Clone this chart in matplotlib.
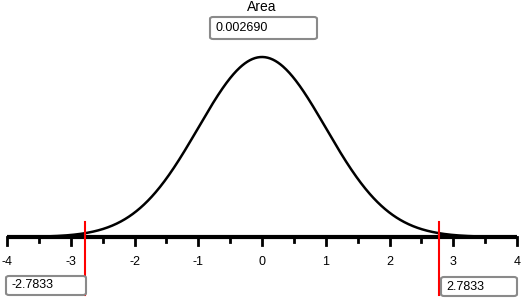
import numpy as np
import matplotlib
matplotlib.use("Agg")
import matplotlib.pyplot as plt
from matplotlib.patches import FancyBboxPatch

# data
x_ticks = [-4, -3, -2, -1, 0, 1, 2, 3, 4]
x_tick_labels = ["-4", "-3", "-2", "-1", "0", "1", "2", "3", "4"]
critical_values = [-2.7833, 2.7833]
critical_labels = ["-2.7833", "2.7833"]
area_label = "Area"
area_value = "0.002690"

plt.rcParams['font.family'] = ['Liberation Sans', 'DejaVu Sans']

W, H = 525, 300
fig = plt.figure(figsize=(W/100, H/100), dpi=100)
ax = fig.add_axes([0, 0, 1, 1])
ax.set_axis_off()

px_per_x = 510/8.0
x0_px = 262.0
px_per_y = 180/0.39894
y0_px = 237.0
ax.set_xlim(-x0_px/px_per_x, (W - x0_px)/px_per_x)
ax.set_ylim(-(H - y0_px)/px_per_y, y0_px/px_per_y)

def fx(px):
    return px/W
def fy(py):
    return 1 - py/H

xs = np.linspace(-4, 4, 801)
pdf = np.exp(-xs**2/2)/np.sqrt(2*np.pi)
ax.plot(xs, pdf, color="black", lw=1.8, zorder=3, solid_capstyle="butt")
# tail shading (dark navy)
for cv in critical_values:
    mask = xs <= cv if cv < 0 else xs >= cv
    ax.fill_between(xs[mask], 0, pdf[mask], color="#000060", zorder=2)

# axis line
ax.plot([-4, 4], [0, 0], color="black", lw=3, zorder=4, solid_capstyle="butt")
# ticks
major_len = 8/px_per_y
minor_len = 5/px_per_y
for t in x_ticks:
    ax.plot([t, t], [0, -major_len], color="black", lw=2, zorder=4)
for t in np.arange(-3.5, 4, 1.0):
    ax.plot([t, t], [0, -minor_len], color="black", lw=2, zorder=4)
for t, lab in zip(x_ticks, x_tick_labels):
    ax.text(t, -25/px_per_y, lab, ha="center", va="center", fontsize=9, color="black")

# critical lines
for cv in critical_values:
    ax.plot([cv, cv], [15/px_per_y, -58/px_per_y], color="#ff0000", lw=1.5, zorder=5)

def box(x1, y1, x2, y2, text):
    p = FancyBboxPatch((fx(x1), fy(y2)), fx(x2) - fx(x1), fy(y1) - fy(y2),
                       boxstyle="round,pad=0,rounding_size=0.006",
                       transform=fig.transFigure, facecolor="white",
                       edgecolor="#8a8a8a", lw=1.5, zorder=6)
    fig.patches.append(p)
    fig.text(fx(x1 + 5), fy((y1 + y2)/2), text, ha="left", va="center",
             fontsize=9, color="black", zorder=7)

box(6, 276, 86, 295, critical_labels[0])
box(441, 277, 517, 296, critical_labels[1])
box(210, 17, 317, 39, area_value)
fig.text(fx(262), fy(7), area_label, ha="center", va="center", fontsize=10, color="black")

fig.savefig("out.png", dpi=100, facecolor="white")
